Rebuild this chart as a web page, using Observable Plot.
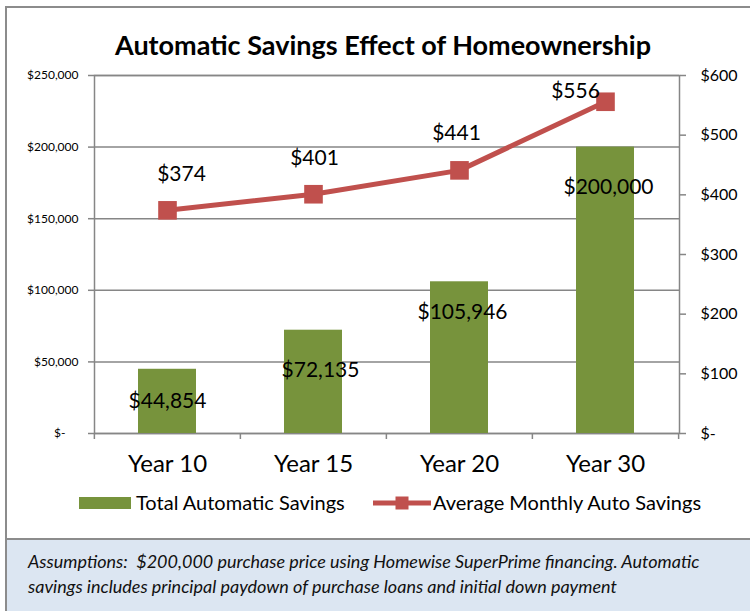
<!DOCTYPE html>
<html>
<head>
<meta charset="utf-8">
<script src="https://cdn.jsdelivr.net/npm/d3@7"></script>
<script src="https://cdn.jsdelivr.net/npm/@observablehq/plot@0.6"></script>
<style>
  html, body { margin: 0; padding: 0; background: #fff; }
  #wrap { position: relative; width: 750px; height: 611px; overflow: hidden; font-family: Lato, sans-serif; color: #000; }
  #frame { position: absolute; left: 5px; top: 6px; width: 800px; height: 700px; border: 2px solid #8c8c8c; box-sizing: border-box; }
  #title { position: absolute; left: 0; width: 766px; top: 29px; text-align: center; font-weight: bold; font-size: 27px; line-height: 32px; white-space: nowrap; }
  #chart { position: absolute; left: 0; top: 0; }
  .leg { position: absolute; font-size: 20px; line-height: 24px; top: 490px; white-space: nowrap; }
  #caption { position: absolute; left: 7px; top: 538px; width: 800px; height: 100px; background: #dce6f2; border-top: 2px solid #8c8c8c; }
  #captext { position: absolute; left: 28px; top: 549px; font-style: italic; font-size: 18px; line-height: 25px; white-space: nowrap; color: #111; }
</style>
</head>
<body>
<div id="wrap">
  <div id="frame"></div>
  <div id="caption"></div>
  <div id="captext"></div>
  <div id="title"></div>
  <div id="chart"></div>
  <div id="legend"></div>
</div>
<script>
// ---- data ----
const years = ["Year 10", "Year 15", "Year 20", "Year 30"];
const totalSavings = [44854, 72135, 105946, 200000];
const monthlySavings = [374, 401, 441, 556];
const leftTicks = [0, 50000, 100000, 150000, 200000, 250000];
const rightTicks = [0, 100, 200, 300, 400, 500, 600];
const titleText = "Automatic Savings Effect of Homeownership";
const seriesNames = ["Total Automatic Savings", "Average Monthly Auto Savings"];
const captionLines = [
  "Assumptions:\u00a0 $200,000 purchase price using Homewise SuperPrime financing. Automatic",
  "savings includes principal paydown of purchase loans and initial down payment"
];

// ---- styling / layout ----
const barColor = "#77933c";
const lineColor = "#c0504d";
const gridColor = "#868686";
const W = 750, H = 480, mT = 75, mB = 47, mL = 94, mR = 71;
const innerH = H - mT - mB;
const paddingInner = 0.6, paddingOuter = 0.3;
const step = (W - mL - mR) / (years.length - paddingInner + 2 * paddingOuter);
const leftMax = leftTicks[leftTicks.length - 1];
const rightMax = rightTicks[rightTicks.length - 1];
const k = leftMax / rightMax; // maps right-axis values onto the left scale

// label nudges [dx, dy] in pixels
const barLabelNudge = {"Year 10": [0, 32], "Year 15": [7, 40], "Year 20": [3, 30], "Year 30": [3, 40]};
const lineLabelNudge = {"Year 10": [14, -36], "Year 15": [1, -36], "Year 20": [-3, -37], "Year 30": [-30, -10]};

const rows = years.map((year, i) => ({year, total: totalSavings[i], monthly: monthlySavings[i]}));

const fmtMoney = d3.format(",");
const leftFmt = d => d === 0 ? "$-\u2007\u2002" : "$" + fmtMoney(d);
const rightFmt = d => { const v = Math.round(d / k); return v === 0 ? "$-" : "$" + fmtMoney(v); };

const barLabelMarks = rows.map(r => Plot.text([r], {
  x: "year", y: "total", text: d => "$" + fmtMoney(d.total),
  dx: barLabelNudge[r.year][0], dy: barLabelNudge[r.year][1],
  fontSize: 21, fill: "black"
}));
const lineLabelMarks = rows.map(r => Plot.text([r], {
  x: "year", y: d => d.monthly * k, text: d => "$" + fmtMoney(d.monthly),
  dx: lineLabelNudge[r.year][0], dy: lineLabelNudge[r.year][1],
  fontSize: 21, fill: "black"
}));

const chart = Plot.plot({
  width: W, height: H,
  marginTop: mT, marginBottom: mB, marginLeft: mL, marginRight: mR,
  style: {fontFamily: "Lato, sans-serif", color: "black", background: "transparent", overflow: "visible"},
  x: {domain: years, paddingInner, paddingOuter, axis: null, label: null},
  y: {domain: [0, leftMax], axis: null, label: null},
  marks: [
    Plot.ruleY(leftTicks, {stroke: gridColor, strokeWidth: 1.5}),
    Plot.frame({stroke: gridColor, strokeWidth: 1.5}),
    // category boundary ticks below the baseline
    Plot.ruleX(years, {x: d => d, dx: -step / 2, insetTop: innerH, insetBottom: -6, stroke: gridColor, strokeWidth: 1.5}),
    Plot.ruleX(years.slice(-1), {x: d => d, dx: step / 2, insetTop: innerH, insetBottom: -6, stroke: gridColor, strokeWidth: 1.5}),
    Plot.axisY({anchor: "left", ticks: leftTicks, tickFormat: leftFmt, tickSize: 6, tickPadding: 10, fontSize: 12, stroke: gridColor, strokeWidth: 1.5, fill: "black", label: null}),
    Plot.axisY({anchor: "right", ticks: rightTicks.map(v => v * k), tickFormat: rightFmt, tickSize: 6, tickPadding: 15, fontSize: 16, stroke: gridColor, strokeWidth: 1.5, fill: "black", label: null}),
    Plot.axisX({tickSize: 0, tickPadding: 21, fontSize: 24, fill: "black", label: null}),
    Plot.barY(rows, {x: "year", y: "total", fill: barColor}),
    Plot.line(rows, {x: "year", y: d => d.monthly * k, stroke: lineColor, strokeWidth: 5}),
    Plot.dot(rows, {x: "year", y: d => d.monthly * k, symbol: "square", r: 10.5, fill: lineColor, stroke: "none"}),
    ...barLabelMarks,
    ...lineLabelMarks
  ]
});
document.getElementById("chart").appendChild(chart);

document.getElementById("title").textContent = titleText;
document.getElementById("captext").innerHTML = captionLines.map(s => `<div>${s}</div>`).join("");

const legend = document.getElementById("legend");
legend.innerHTML = `
  <div style="position:absolute;left:79px;top:497px;width:52px;height:12px;background:${barColor}"></div>
  <div class="leg" style="left:136px">${seriesNames[0]}</div>
  <svg style="position:absolute;left:373px;top:494px" width="58" height="18">
    <line x1="0" x2="58" y1="9" y2="9" stroke="${lineColor}" stroke-width="5" stroke-linecap="round"/>
    <rect x="22.5" y="2.5" width="13" height="13" fill="${lineColor}"/>
  </svg>
  <div class="leg" style="left:433px">${seriesNames[1]}</div>`;
</script>
</body>
</html>
